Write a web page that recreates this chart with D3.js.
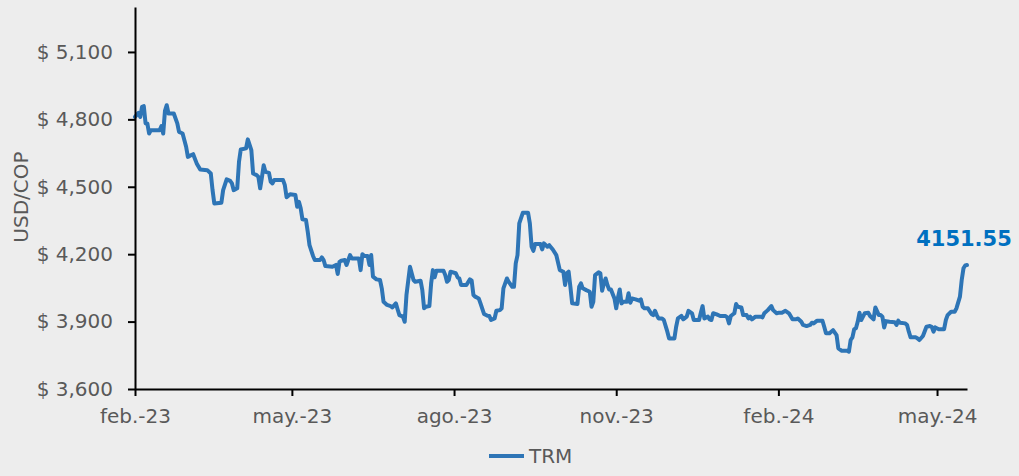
<!DOCTYPE html>
<html>
<head>
<meta charset="utf-8">
<script src="https://cdn.jsdelivr.net/npm/d3@7"></script>
<style>
  html, body { margin: 0; padding: 0; background: #ededed; }
  svg { display: block; font-family: "DejaVu Sans", Verdana, sans-serif; }
</style>
</head>
<body>
<svg id="chart" width="1019" height="476"></svg>
<script>
// Tasa Representativa del Mercado (USD/COP)
const dates = [
  "2023-02-01","2023-02-03","2023-02-04","2023-02-05","2023-02-06","2023-02-07","2023-02-08","2023-02-09","2023-02-10","2023-02-15",
  "2023-02-16","2023-02-17","2023-02-18","2023-02-19","2023-02-20","2023-02-23","2023-02-25","2023-02-26","2023-02-28","2023-03-02",
  "2023-03-03","2023-03-05","2023-03-06","2023-03-08","2023-03-10","2023-03-14","2023-03-16","2023-03-17","2023-03-18","2023-03-22",
  "2023-03-23","2023-03-25","2023-03-27","2023-03-28","2023-03-29","2023-03-31","2023-04-01","2023-04-02","2023-04-05","2023-04-06",
  "2023-04-08","2023-04-09","2023-04-11","2023-04-12","2023-04-13","2023-04-14","2023-04-15","2023-04-16","2023-04-18","2023-04-19",
  "2023-04-20","2023-04-21","2023-04-26","2023-04-27","2023-04-28","2023-04-30","2023-05-03","2023-05-04","2023-05-05","2023-05-06",
  "2023-05-07","2023-05-09","2023-05-10","2023-05-11","2023-05-13","2023-05-14","2023-05-17","2023-05-18","2023-05-19","2023-05-20",
  "2023-05-24","2023-05-26","2023-05-27","2023-05-28","2023-05-29","2023-05-31","2023-06-01","2023-06-03","2023-06-04","2023-06-08",
  "2023-06-09","2023-06-10","2023-06-11","2023-06-13","2023-06-14","2023-06-15","2023-06-16","2023-06-18","2023-06-20","2023-06-21",
  "2023-06-22","2023-06-24","2023-06-26","2023-06-27","2023-06-29","2023-06-30","2023-07-01","2023-07-03","2023-07-04","2023-07-05",
  "2023-07-07","2023-07-09","2023-07-10","2023-07-13","2023-07-14","2023-07-15","2023-07-16","2023-07-18","2023-07-19","2023-07-20",
  "2023-07-21","2023-07-22","2023-07-26","2023-07-27","2023-07-28","2023-07-29","2023-07-30","2023-08-02","2023-08-03","2023-08-04",
  "2023-08-05","2023-08-08","2023-08-10","2023-08-11","2023-08-12","2023-08-13","2023-08-15","2023-08-16","2023-08-18","2023-08-20",
  "2023-08-21","2023-08-22","2023-08-24","2023-08-25","2023-08-27","2023-08-28","2023-08-29","2023-08-31","2023-09-01","2023-09-03",
  "2023-09-04","2023-09-05","2023-09-06","2023-09-07","2023-09-09","2023-09-12","2023-09-13","2023-09-14","2023-09-15","2023-09-16",
  "2023-09-19","2023-09-20","2023-09-21","2023-09-23","2023-09-24","2023-09-26","2023-09-28","2023-09-30","2023-10-02","2023-10-03",
  "2023-10-04","2023-10-05","2023-10-06","2023-10-07","2023-10-10","2023-10-11","2023-10-12","2023-10-13","2023-10-15","2023-10-17",
  "2023-10-18","2023-10-19","2023-10-20","2023-10-22","2023-10-23","2023-10-24","2023-10-25","2023-10-26","2023-10-27","2023-10-28",
  "2023-10-29","2023-10-31","2023-11-01","2023-11-02","2023-11-03","2023-11-04","2023-11-05","2023-11-07","2023-11-08","2023-11-09",
  "2023-11-10","2023-11-12","2023-11-14","2023-11-15","2023-11-16","2023-11-17","2023-11-19","2023-11-21","2023-11-22","2023-11-23",
  "2023-11-24","2023-11-25","2023-11-27","2023-11-28","2023-11-30","2023-12-01","2023-12-04","2023-12-05","2023-12-06","2023-12-08",
  "2023-12-09","2023-12-11","2023-12-12","2023-12-14","2023-12-15","2023-12-18","2023-12-19","2023-12-20","2023-12-21","2023-12-23",
  "2023-12-24","2023-12-25","2023-12-26","2023-12-28","2023-12-30","2024-01-02","2024-01-03","2024-01-04","2024-01-05","2024-01-07",
  "2024-01-08","2024-01-09","2024-01-11","2024-01-12","2024-01-14","2024-01-15","2024-01-16","2024-01-17","2024-01-19","2024-01-22",
  "2024-01-23","2024-01-24","2024-01-26","2024-01-28","2024-01-29","2024-01-31","2024-02-01","2024-02-03","2024-02-05","2024-02-07",
  "2024-02-09","2024-02-11","2024-02-12","2024-02-14","2024-02-15","2024-02-17","2024-02-19","2024-02-20","2024-02-21","2024-02-23",
  "2024-02-26","2024-02-27","2024-02-28","2024-03-01","2024-03-03","2024-03-05","2024-03-06","2024-03-08","2024-03-11","2024-03-12",
  "2024-03-13","2024-03-14","2024-03-15","2024-03-16","2024-03-17","2024-03-18","2024-03-19","2024-03-20","2024-03-21","2024-03-23",
  "2024-03-24","2024-03-26","2024-03-27","2024-03-29","2024-03-30","2024-03-31","2024-04-01","2024-04-02","2024-04-04","2024-04-07",
  "2024-04-08","2024-04-09","2024-04-10","2024-04-13","2024-04-14","2024-04-15","2024-04-16","2024-04-19","2024-04-20","2024-04-21",
  "2024-04-23","2024-04-25","2024-04-27","2024-04-28","2024-04-29","2024-04-30","2024-05-02","2024-05-05","2024-05-06","2024-05-07",
  "2024-05-09","2024-05-11","2024-05-12","2024-05-14","2024-05-15","2024-05-16","2024-05-17","2024-05-18"
];

const trm = [
  4811,4829,4811,4856,4859,4782,4782,4737,4752,4752,
  4770,4737,4838,4863,4826,4826,4782,4744,4737,4678,
  4633,4641,4645,4604,4577,4574,4559,4485,4426,4429,
  4485,4533,4526,4515,4485,4493,4611,4666,4671,4711,
  4663,4559,4552,4544,4493,4542,4596,4566,4562,4522,
  4515,4530,4530,4507,4453,4467,4463,4411,4433,4404,
  4355,4352,4300,4240,4192,4174,4174,4186,4174,4147,
  4144,4152,4112,4166,4171,4174,4152,4196,4181,4181,
  4129,4200,4192,4192,4152,4196,4100,4088,4085,4048,
  3988,3974,3969,3963,3981,3954,3929,3922,3899,4018,
  4144,4085,4077,4082,4040,3959,3966,3969,4070,4129,
  4097,4126,4126,4107,4077,4085,4122,4115,4097,4092,
  4063,4063,4088,4082,4018,4011,4003,3981,3934,3926,
  3925,3907,3914,3948,3951,3959,4048,4092,4077,4055,
  4055,4159,4196,4337,4384,4384,4337,4233,4215,4245,
  4245,4221,4248,4233,4240,4221,4196,4129,4122,4063,
  4115,4122,4055,3981,3978,4055,4070,4048,4040,4033,
  3966,3988,4107,4119,4115,4037,4070,4092,4063,4043,
  4043,4003,3959,4008,4043,3981,3988,3988,4026,3984,
  4003,3999,3993,3999,3966,3959,3959,3934,3929,3948,
  3929,3914,3914,3907,3855,3825,3825,3877,3914,3925,
  3910,3922,3948,3937,3907,3907,3939,3969,3914,3922,
  3910,3907,3937,3932,3925,3925,3919,3892,3925,3937,
  3978,3966,3963,3929,3929,3914,3922,3910,3922,3922,
  3919,3937,3951,3969,3951,3937,3939,3939,3948,3937,
  3910,3910,3914,3899,3885,3880,3885,3895,3892,3904,
  3904,3877,3848,3848,3862,3840,3781,3770,3770,3766,
  3818,3830,3866,3870,3899,3939,3907,3922,3937,3939,
  3925,3910,3963,3929,3929,3922,3874,3902,3899,3897,
  3885,3904,3895,3892,3885,3855,3830,3830,3825,3818,
  3836,3877,3880,3877,3855,3874,3866,3866,3907,3929,
  3944,3944,3959,4011,4085,4137,4150,4151.55
];

const yTicks = [3600, 3900, 4200, 4500, 4800, 5100];
const yDomain = [3600, 5300];
const xTickDates = ["2023-02-01", "2023-05-01", "2023-08-01", "2023-11-01", "2024-02-01", "2024-05-01"];
const xTickLabels = ["feb.-23", "may.-23", "ago.-23", "nov.-23", "feb.-24", "may.-24"];
const seriesName = "TRM";
const yTitle = "USD/COP";

// Layout
const W = 1019, H = 476;
const plot = { left: 135, right: 967, top: 7, bottom: 389 };
const lineColor = "#2e75b6";
const textColor = "#595959";
const fontSize = "20px";

const parse = d3.utcParse("%Y-%m-%d");
const series = dates.map((d, i) => ({ date: parse(d), value: trm[i] }));

const svg = d3.select("#chart");
svg.append("rect").attr("width", W).attr("height", H).attr("fill", "#ededed");

const x = d3.scaleUtc()
  .domain(d3.extent(series, d => d.date))
  .range([plot.left, plot.right]);

const y = d3.scaleLinear()
  .domain(yDomain)
  .range([plot.bottom, plot.top]);

// Series line
const line = d3.line()
  .x(d => x(d.date))
  .y(d => y(d.value));

svg.append("path")
  .datum(series)
  .attr("fill", "none")
  .attr("stroke", lineColor)
  .attr("stroke-width", 4)
  .attr("stroke-linejoin", "round")
  .attr("stroke-linecap", "round")
  .attr("d", line);

// Y axis
const yAxis = svg.append("g")
  .attr("transform", `translate(${plot.left},0)`)
  .call(d3.axisLeft(y)
    .tickValues(yTicks)
    .tickSize(7)
    .tickSizeOuter(0)
    .tickPadding(15)
    .tickFormat(v => "$ " + d3.format(",")(v)));

// X axis
const xAxis = svg.append("g")
  .attr("transform", `translate(0,${plot.bottom})`)
  .call(d3.axisBottom(x)
    .tickValues(xTickDates.map(parse))
    .tickSize(7)
    .tickSizeOuter(0)
    .tickPadding(13)
    .tickFormat((d, i) => xTickLabels[i]));

[yAxis, xAxis].forEach(g => {
  g.select(".domain").attr("stroke", "#000").attr("stroke-width", 2);
  g.selectAll(".tick line").attr("stroke", "#000").attr("stroke-width", 2);
  g.selectAll(".tick text")
    .attr("fill", textColor)
    .style("font-size", fontSize)
    .style("font-family", "\"DejaVu Sans\", Verdana, sans-serif");
});

// Axis title
svg.append("text")
  .attr("transform", "translate(21,197) rotate(-90)")
  .attr("text-anchor", "middle")
  .attr("dominant-baseline", "central")
  .attr("fill", textColor)
  .style("font-size", fontSize)
  .text(yTitle);

// Last value label
const last = series[series.length - 1];
svg.append("text")
  .attr("x", x(last.date) - 3)
  .attr("y", y(last.value) - 19)
  .attr("text-anchor", "middle")
  .attr("fill", "#0070c0")
  .style("font-size", "21px")
  .style("font-weight", "bold")
  .text(d3.format(".2f")(last.value));

// Legend
const legend = svg.append("g").attr("transform", "translate(489,456)");
legend.append("line")
  .attr("x1", 0).attr("x2", 35)
  .attr("y1", 0).attr("y2", 0)
  .attr("stroke", lineColor)
  .attr("stroke-width", 4);
legend.append("text")
  .attr("x", 40).attr("y", 0)
  .attr("dominant-baseline", "central")
  .attr("fill", textColor)
  .style("font-size", fontSize)
  .text(seriesName);
</script>
</body>
</html>
